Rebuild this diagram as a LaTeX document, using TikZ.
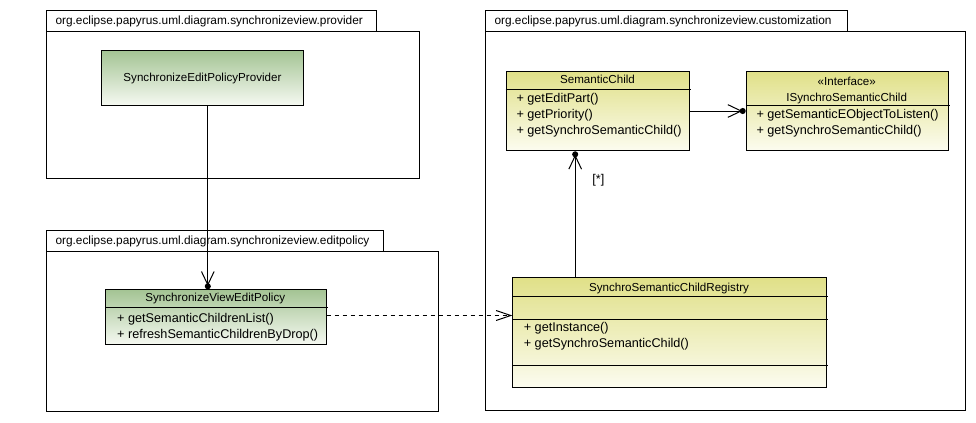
\documentclass[tikz,border=0pt]{standalone}
\usepackage{fontspec}
\setmainfont{Liberation Sans}
\usetikzlibrary{arrows.meta}

\definecolor{clsgreen}{RGB}{164,196,148}
\definecolor{clsgreenlow}{RGB}{246,249,242}
\definecolor{clsyellow}{RGB}{224,224,136}
\definecolor{clsyellowlow}{RGB}{252,252,240}

\begin{document}
\begin{tikzpicture}[x=0.75pt,y=-0.75pt,line width=0.75pt,
  boxbase/.style={draw,rectangle,anchor=north west,inner sep=0pt},
  tablabel/.style={anchor=west,inner sep=0pt,font=\fontsize{8.9}{10}\selectfont},
  greencls/.style={boxbase,top color=clsgreen,bottom color=clsgreenlow},
  yellowcls/.style={boxbase,top color=clsyellow,bottom color=clsyellowlow},
  clsname/.style={inner sep=0pt,text height=0.72em,text depth=0.2em,font=\fontsize{8.7}{10}\selectfont},
  op/.style={anchor=west,inner sep=0pt,text height=0.72em,text depth=0.2em,font=\fontsize{9.5}{11}\selectfont},
  ownedtip/.tip={Straight Barb[length=10pt,width=9.5pt,sep=-2pt] Circle[length=4.5pt,sep=0pt]},
  assoc/.style={-{ownedtip}},
  depend/.style={dash pattern=on 3pt off 3pt,-{Straight Barb[length=11pt,width=7.5pt]}}
]
\path[use as bounding box,fill=white] (0,0) rectangle (976,422);

% ---- packages ----
\node[boxbase,minimum width=247.5pt,minimum height=15.75pt] (provtab) at (46,10.3) {};
\node[boxbase,minimum width=280pt,minimum height=110.25pt] (provpkg) at (46,31.3) {};
\node[tablabel] (provlbl) at (55,21) {org.eclipse.papyrus.uml.diagram.synchronizeview.provider};

\node[boxbase,minimum width=252.75pt,minimum height=15.75pt] (edittab) at (46,230.3) {};
\node[boxbase,minimum width=293.8pt,minimum height=119.8pt] (editpkg) at (46,251.3) {};
\node[tablabel] (editlbl) at (55,241) {org.eclipse.papyrus.uml.diagram.synchronizeview.editpolicy};

\node[boxbase,minimum width=271pt,minimum height=15.75pt] (custtab) at (485.3,10.3) {};
\node[boxbase,minimum width=360pt,minimum height=284pt] (custpkg) at (485.3,31.3) {};
\node[tablabel] (custlbl) at (494,21) {org.eclipse.papyrus.uml.diagram.synchronizeview.customization};

% ---- classes ----
\node[greencls,minimum width=151pt,minimum height=41pt] (prov) at (101.3,50.3) {};
\node[clsname] (provname) at (prov.center) {SynchronizeEditPolicyProvider};

\node[greencls,minimum width=165.5pt,minimum height=41.25pt] (evp) at (105,289.3) {};
\draw (evp.west |- 0,307.7) -- ([xshift=0.75pt]evp.east |- 0,307.7);
\node[clsname] (evpname) at (215.3,298.5) {SynchronizeViewEditPolicy};
\node[op] (evpop1) at (116.7,319.3) {+ getSemanticChildrenList()};
\node[op] (evpop2) at (116.7,335) {+ refreshSemanticChildrenByDrop()};

\node[yellowcls,minimum width=137.7pt,minimum height=59.7pt] (sc) at (505.7,70.7) {};
\draw (sc.west |- 0,89.3) -- ([xshift=0.75pt]sc.east |- 0,89.3);
\node[clsname] (scname) at (597.5,80) {SemanticChild};
\node[op] (scop1) at (516,99.5) {+ getEditPart()};
\node[op] (scop2) at (516,115.3) {+ getPriority()};
\node[op] (scop3) at (516,131) {+ getSynchroSemanticChild()};

\node[yellowcls,minimum width=151.5pt,minimum height=59.7pt] (isc) at (745.7,70.7) {};
\draw (isc.west |- 0,105) -- ([xshift=0.75pt]isc.east |- 0,105);
\node[clsname] (iscstereo) at (846.7,82.3) {«Interface»};
\node[clsname] (iscname) at (846.7,97.7) {ISynchroSemanticChild};
\node[op] (iscop1) at (756,115) {+ getSemanticEObjectToListen()};
\node[op] (iscop2) at (756,130.7) {+ getSynchroSemanticChild()};

\node[yellowcls,minimum width=235pt,minimum height=82.5pt] (reg) at (512.3,277.3) {};
\draw (reg.west |- 0,296.3) -- ([xshift=0.75pt]reg.east |- 0,296.3);
\draw (reg.west |- 0,319.3) -- ([xshift=0.75pt]reg.east |- 0,319.3);
\draw (reg.west |- 0,365.3) -- ([xshift=0.75pt]reg.east |- 0,365.3);
\node[clsname] (regname) at (669,288) {SynchroSemanticChildRegistry};
\node[op] (regop1) at (523.3,328.3) {+ getInstance()};
\node[op] (regop2) at (523.3,344.3) {+ getSynchroSemanticChild()};

% ---- connectors ----
\draw[assoc] ([xshift=4pt]prov.south) -- ([xshift=4pt]prov.south |- evp.north);
\draw[assoc] (sc.east) -- (isc.west);
\draw[assoc] ([xshift=-17.1pt]sc.south |- reg.north) -- ([xshift=-17.1pt]sc.south)
  node[pos=0.774,anchor=west,xshift=12.5pt,inner sep=0pt,font=\fontsize{9.5}{11}\selectfont] (mult) {[*]};
\draw[depend] ([yshift=1.35pt]evp.east) -- ([yshift=1.35pt]evp.east -| reg.west);
\end{tikzpicture}
\end{document}
